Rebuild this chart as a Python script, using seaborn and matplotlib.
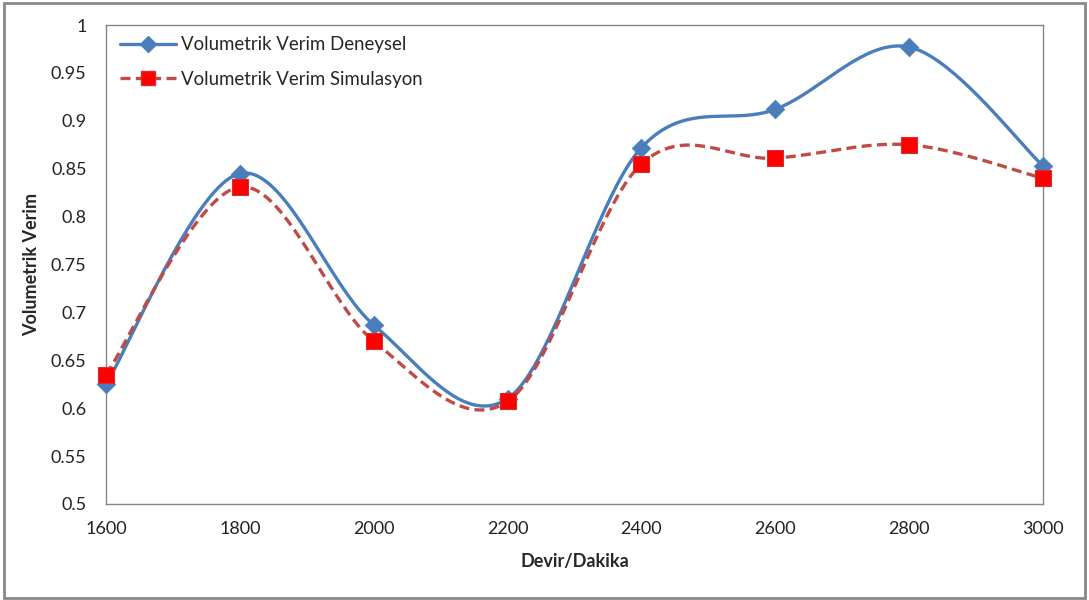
import numpy as np
import pandas as pd
import matplotlib
matplotlib.use("Agg")
import matplotlib.pyplot as plt
from matplotlib.lines import Line2D
from matplotlib.patches import Rectangle
import seaborn as sns

devir = [1600, 1800, 2000, 2200, 2400, 2600, 2800, 3000]
deneysel = [0.625, 0.845, 0.687, 0.610, 0.872, 0.912, 0.977, 0.853]
simulasyon = [0.635, 0.831, 0.670, 0.607, 0.855, 0.861, 0.875, 0.840]
yticks = [0.5, 0.55, 0.6, 0.65, 0.7, 0.75, 0.8, 0.85, 0.9, 0.95, 1.0]
xticks = [1600, 1800, 2000, 2200, 2400, 2600, 2800, 3000]
label_den = "Volumetrik Verim Deneysel"
label_sim = "Volumetrik Verim Simulasyon"


def smooth(x, y, n=40):
    # Excel-like smoothed line: Catmull-Rom Bezier between points
    x = np.asarray(x, float)
    y = np.asarray(y, float)
    P = np.column_stack([x, y])
    out = []
    for i in range(len(P) - 1):
        p0 = P[i - 1] if i > 0 else P[i]
        p1 = P[i]
        p2 = P[i + 1]
        p3 = P[i + 2] if i + 2 < len(P) else P[i + 1]
        c1 = p1 + (p2 - p0) / 6.0
        c2 = p2 - (p3 - p1) / 6.0
        t = np.linspace(0, 1, n, endpoint=(i == len(P) - 2))[:, None]
        b = ((1 - t) ** 3) * p1 + 3 * ((1 - t) ** 2) * t * c1 + 3 * (1 - t) * t ** 2 * c2 + t ** 3 * p2
        out.append(b)
    out = np.vstack(out)
    return out[:, 0], out[:, 1]


sns.set_style("white")
plt.rcParams["font.family"] = ["Lato", "DejaVu Sans"]

fig = plt.figure(figsize=(10.89, 6.0), dpi=100)
ax = fig.add_axes([0.0973, 0.16, 0.8605, 0.7983])

blue = "#4A7EBB"
red_line = "#BE4B48"
red_fill = "#FF0000"

xs, ys = smooth(devir, deneysel)
df_den = pd.DataFrame({"x": xs, "y": ys})
xs2, ys2 = smooth(devir, simulasyon)
df_sim = pd.DataFrame({"x": xs2, "y": ys2})

sns.lineplot(data=df_den, x="x", y="y", ax=ax, color=blue, linewidth=2.4, sort=False,
             estimator=None)
sns.lineplot(data=df_sim, x="x", y="y", ax=ax, color=red_line, linewidth=2.4, sort=False,
             estimator=None, linestyle=(0, (3, 1.6)))
pts_den = pd.DataFrame({"x": devir, "y": deneysel})
pts_sim = pd.DataFrame({"x": devir, "y": simulasyon})
sns.scatterplot(data=pts_den, x="x", y="y", ax=ax, marker="D", s=90, color=blue,
                edgecolor=blue, linewidth=0.5, zorder=3, clip_on=False)
sns.scatterplot(data=pts_sim, x="x", y="y", ax=ax, marker="s", s=140, color=red_fill,
                edgecolor="#D03030", linewidth=0.8, zorder=4, clip_on=False)

ax.set_xlim(1600, 3000)
ax.set_ylim(0.5, 1.0)
ax.set_xticks(xticks)
ax.set_xticklabels([str(v) for v in xticks])
ax.set_yticks(yticks)
ax.set_yticklabels([f"{v:g}" for v in yticks])
ax.tick_params(axis="both", length=0, labelsize=13, colors="#222222")
ax.tick_params(axis="y", pad=14)
ax.tick_params(axis="x", pad=12)
for s in ax.spines.values():
    s.set_visible(True)
    s.set_color("#868686")
    s.set_linewidth(1.0)

ax.set_xlabel("Devir/Dakika", fontsize=13, fontweight="bold", labelpad=12)
ax.set_ylabel("Volumetrik Verim", fontsize=13, fontweight="bold", labelpad=8)

handles = [
    Line2D([0], [0], color=blue, lw=2.4, marker="D", markersize=8, markerfacecolor=blue),
    Line2D([0], [0], color=red_line, lw=2.4, linestyle=(0, (3, 1.6)), marker="s", markersize=10,
           markerfacecolor=red_fill, markeredgecolor="#D03030"),
]
leg = ax.legend(handles, [label_den, label_sim], loc="upper left", bbox_to_anchor=(-0.003, 1.012),
                frameon=False, fontsize=13.4, handlelength=3.0, handletextpad=0.3,
                labelspacing=0.95)

fig.patches.append(Rectangle((0.004, 0.004), 0.992, 0.991, transform=fig.transFigure,
                             fill=False, edgecolor="#888888", linewidth=2))

fig.savefig("out.png", dpi=100)
